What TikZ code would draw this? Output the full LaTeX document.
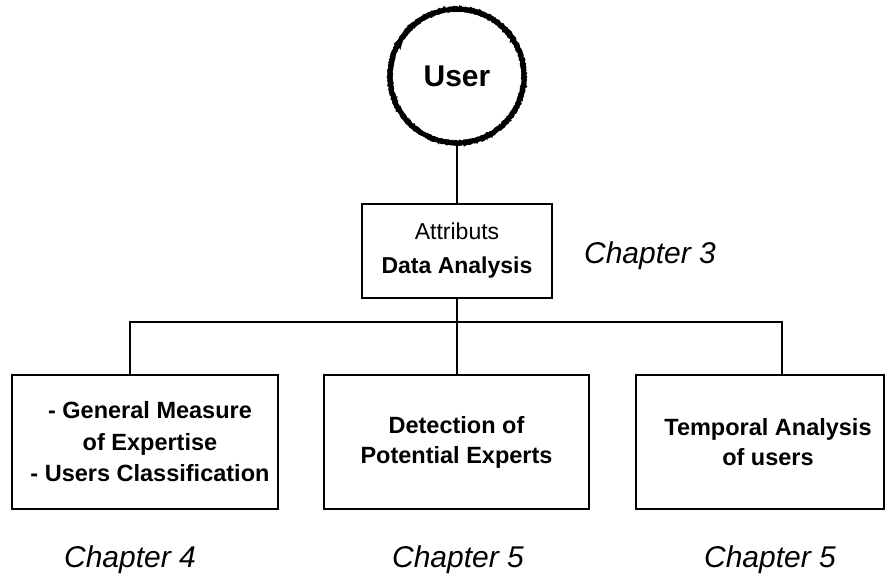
\documentclass[tikz,border=0pt]{standalone}
\usepackage{fontspec}
\setmainfont{Liberation Sans}
\usetikzlibrary{decorations.pathmorphing}
\tikzset{
  box/.style={draw=black, line width=2.8pt, rectangle, align=center, inner sep=0pt},
  boxtext/.style={font=\fontsize{23.5}{30}\selectfont\bfseries},
  conn/.style={line width=2.2pt, line cap=rect},
  chap/.style={font=\fontsize{30}{32}\selectfont\itshape, anchor=base},
  rough/.style={line width=4.5pt, decorate, decoration={random steps, segment length=1.2pt, amplitude=0.7pt}}
}
\begin{document}
\begin{tikzpicture}[x=1pt, y=-1pt]
\useasboundingbox (0,0) rectangle (889,580);
% user circle
\node[circle, minimum size=140, inner sep=0pt, font=\fontsize{30}{34}\selectfont\bfseries] (user) at (457,76) {User};
\draw[rough] (user.center) circle (67);
\draw[rough, line width=2pt] (user.center) circle (68.5);
\draw[rough, line width=2pt] (user.center) circle (65.5);
% data analysis
\node[box, minimum width=190, minimum height=94, font=\fontsize{23}{34}\selectfont] (da) at (457,251)
  {Attributs\\\textbf{Data Analysis}};
% lower boxes
\node[box, minimum width=266, minimum height=134, font=\fontsize{23.5}{31.5}\selectfont\bfseries] (b1) at (145,442)
  {\hspace*{10pt}- General Measure\\\hspace*{10pt}of Expertise\\\hspace*{10pt}- Users Classification};
\node[box, boxtext, minimum width=265, minimum height=134] (b2) at (456.5,442)
  {Detection of\\Potential Experts};
\node[box, boxtext, minimum width=248, minimum height=134] (b3) at (760,442)
  {\hspace*{16pt}Temporal Analysis\\\hspace*{16pt}of users};
% junctions
\coordinate (j0) at (457,322);
\coordinate (j1) at (130,322);
\coordinate (j3) at (782,322);
% connectors
\draw[conn] (user.south) -- (da.north);
\draw[conn] (da.south) -- (j0);
\draw[conn] (j1) -- (j3);
\draw[conn] (j1) -- (j1 |- b1.north);
\draw[conn] (j0) -- (j0 |- b2.north);
\draw[conn] (j3) -- (j3 |- b3.north);
% chapter labels
\node[chap] (c3) at (650,263) {Chapter 3};
\node[chap] (c4) at (130,567) {Chapter 4};
\node[chap] (c5a) at (458,567) {Chapter 5};
\node[chap] (c5b) at (770,567) {Chapter 5};
\end{tikzpicture}
\end{document}
